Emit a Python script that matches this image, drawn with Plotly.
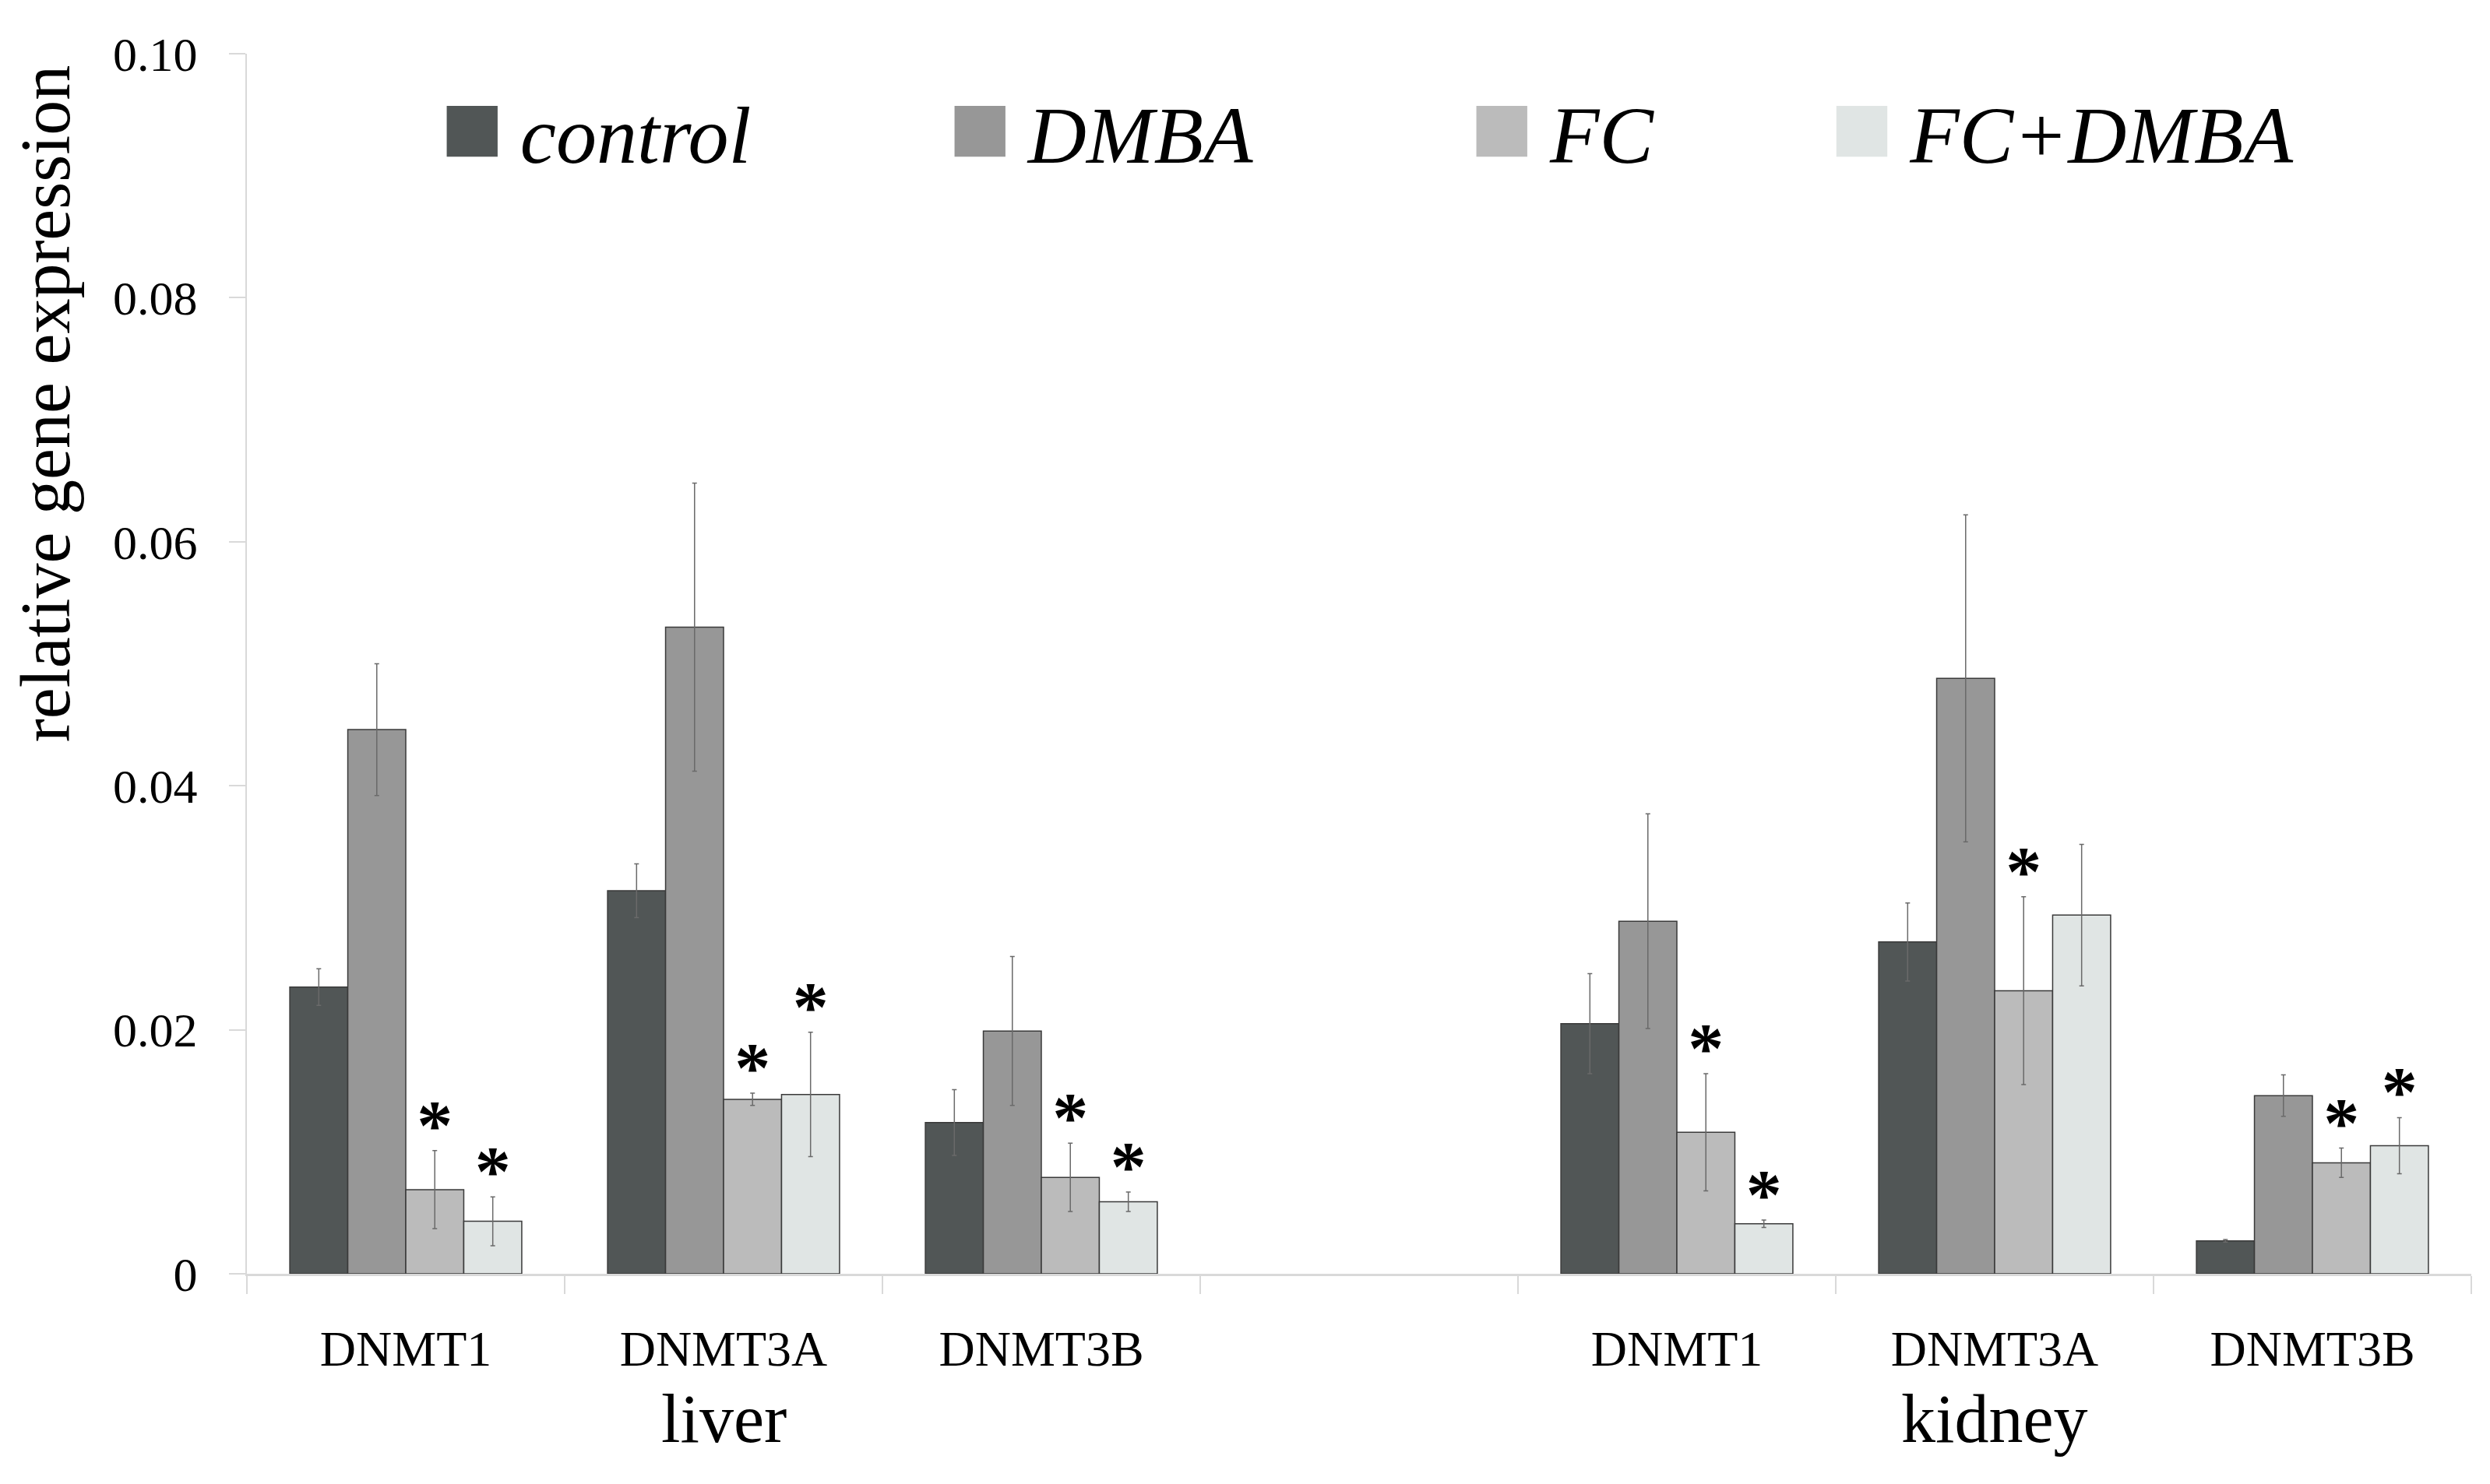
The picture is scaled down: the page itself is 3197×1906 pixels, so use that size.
import plotly.graph_objects as go

# ---- data ----
tissues = ["liver", "kidney"]
genes = ["DNMT1", "DNMT3A", "DNMT3B"]
series_names = ["control", "DMBA", "FC", "FC+DMBA"]

control_liver = [0.0235, 0.0314, 0.0124]
control_kidney = [0.0205, 0.0272, 0.0027]
dmba_liver = [0.0446, 0.0530, 0.0199]
dmba_kidney = [0.0289, 0.0488, 0.0146]
fc_liver = [0.0069, 0.0143, 0.0079]
fc_kidney = [0.0116, 0.0232, 0.0091]
fcdmba_liver = [0.0043, 0.0147, 0.0059]
fcdmba_kidney = [0.0041, 0.0294, 0.0105]

control_err_liver = [0.0015, 0.0022, 0.0027]
control_err_kidney = [0.0041, 0.0032, 0.0001]
dmba_err_liver = [0.0054, 0.0118, 0.0061]
dmba_err_kidney = [0.0088, 0.0134, 0.0017]
fc_err_liver = [0.0032, 0.0005, 0.0028]
fc_err_kidney = [0.0048, 0.0077, 0.0012]
fcdmba_err_liver = [0.0020, 0.0051, 0.0008]
fcdmba_err_kidney = [0.0003, 0.0058, 0.0023]

# significance marks (1 = asterisk)
control_sig_liver = [0, 0, 0]
control_sig_kidney = [0, 0, 0]
dmba_sig_liver = [0, 0, 0]
dmba_sig_kidney = [0, 0, 0]
fc_sig_liver = [1, 1, 1]
fc_sig_kidney = [1, 1, 1]
fcdmba_sig_liver = [1, 1, 1]
fcdmba_sig_kidney = [1, 0, 1]

y_tickvals = [0, 0.02, 0.04, 0.06, 0.08, 0.10]
y_ticktext = ["0", "0.02", "0.04", "0.06", "0.08", "0.10"]

# ---- styling ----
colors = ["#515656", "#979797", "#bbbbbb", "#e0e5e4"]
legend_pad = [8, 9, 7, 8]
FONT = "Liberation Serif"

# category keys: liver genes, empty spacer slot, kidney genes
GAP = "spacer"
cat_keys = [f"{tissues[0]} {g}" for g in genes] + [GAP] + [f"{tissues[1]} {g}" for g in genes]
cat_text = genes + [""] + genes


def join(a, b):
    return list(a) + [None] + list(b)


values = [
    join(control_liver, control_kidney),
    join(dmba_liver, dmba_kidney),
    join(fc_liver, fc_kidney),
    join(fcdmba_liver, fcdmba_kidney),
]
errors = [
    join(control_err_liver, control_err_kidney),
    join(dmba_err_liver, dmba_err_kidney),
    join(fc_err_liver, fc_err_kidney),
    join(fcdmba_err_liver, fcdmba_err_kidney),
]
sigs = [
    join(control_sig_liver, control_sig_kidney),
    join(dmba_sig_liver, dmba_sig_kidney),
    join(fc_sig_liver, fc_sig_kidney),
    join(fcdmba_sig_liver, fcdmba_sig_kidney),
]

fig = go.Figure()

for name, col, vals, errs in zip(series_names, colors, values, errors):
    fig.add_trace(go.Bar(
        x=cat_keys, y=vals, name=name, offsetgroup=name,
        marker=dict(color=col, line=dict(color="#3a3a3a", width=1.5)),
        error_y=dict(type="data", array=[e if e is not None else 0 for e in errs],
                     color="#6a6a6a", thickness=1.5, width=3),
        showlegend=False,
    ))

# asterisks aligned with grouped bars (placed just above the error bar tops)
star = '<span style="font-size:92px">*</span>'
for name, vals, errs, sg in zip(series_names, values, errors, sigs):
    ys, ts = [], []
    for v, e, s in zip(vals, errs, sg):
        if v is None:
            ys.append(None); ts.append("")
        else:
            ys.append(v + e)
            ts.append(star if s else "")
    fig.add_trace(go.Scatter(
        x=cat_keys, y=ys, text=ts, mode="text", offsetgroup=name,
        textposition="top center",
        textfont=dict(family=FONT, size=8, color="black", weight="bold"),
        showlegend=False, hoverinfo="skip",
    ))

# legend entries with big square glyphs
for name, col, npad in zip(series_names, colors, legend_pad):
    fig.add_trace(go.Scatter(
        x=[None], y=[None], mode="markers",
        marker=dict(color="rgba(0,0,0,0)", size=1),
        name=(f'<span style="color:{col};font-size:135px">\u25a0</span>'
              f'<i>\u2009{name}</i>' + "\u00a0" * npad),
        showlegend=True, hoverinfo="skip",
    ))

annotations = [
    dict(text="relative gene expression", textangle=-90, xref="paper", yref="paper",
         x=-0.0905, y=0.713, xanchor="center", yanchor="middle", showarrow=False,
         font=dict(family=FONT, size=90, color="black")),
]
for t in tissues:
    annotations.append(dict(
        text=t, xref="x", yref="paper", x=f"{t} {genes[1]}", y=-0.087,
        xanchor="center", yanchor="top", showarrow=False,
        font=dict(family=FONT, size=88, color="black")))

fig.update_layout(
    width=3197, height=1906,
    margin=dict(l=309, r=32, t=61, b=278),
    paper_bgcolor="white", plot_bgcolor="white",
    barmode="group", bargap=0.27, bargroupgap=0,
    scattermode="group", scattergap=0.27,
    font=dict(family=FONT, color="black"),
    legend=dict(orientation="h", x=0.073, y=0.9365, xanchor="left", yanchor="middle",
                font=dict(family=FONT, size=104, color="black"),
                bgcolor="rgba(0,0,0,0)", itemwidth=30),
    annotations=annotations,
    xaxis=dict(
        type="category", categoryorder="array", categoryarray=cat_keys,
        tickvals=cat_keys, ticktext=cat_text,
        tickson="boundaries", ticks="outside", ticklen=23, tickcolor="#d9d9d9", tickwidth=2,
        showline=True, linecolor="#d9d9d9", linewidth=3,
        showgrid=False, zeroline=False,
        tickfont=dict(family=FONT, size=64, color="black"),
        ticklabelstandoff=38,
    ),
    yaxis=dict(
        range=[0, 0.1], tickvals=y_tickvals, ticktext=y_ticktext,
        ticks="outside", ticklen=21, tickcolor="#d9d9d9", tickwidth=2,
        showline=True, linecolor="#d9d9d9", linewidth=2,
        showgrid=False, zeroline=False,
        tickfont=dict(family=FONT, size=62, color="black"),
        ticklabelstandoff=28,
    ),
)

fig.write_html("out.html")
